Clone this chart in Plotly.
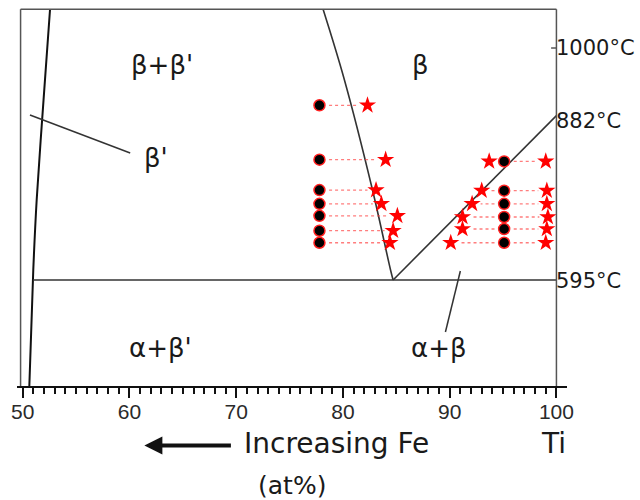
import numpy as np
import plotly.graph_objects as go

# ---- Ti-Fe phase boundaries (x = at% Ti, y = temperature in °C) ----
beta_prime_x = [52.56, 51.95, 51.31, 50.99, 50.62]
beta_prime_T = [1067.6, 909.0, 735.0, 612.5, 409.9]

beta_solvus_x = [78.14, 80.14, 82.77, 84.46, 84.70]
beta_solvus_T = [1067.6, 944.2, 752.1, 612.5, 595.0]

transus_x = [84.70, 100.0]
transus_T = [595.0, 882.0]

eutectoid_T = 595.0

# ---- heat-treatment samples (black) and measured compositions (red stars) ----
left_T = [900, 805, 752, 728, 707, 681, 660]
left_circle_x = [77.8, 77.8, 77.8, 77.8, 77.8, 77.8, 77.8]
left_star_x = [82.3, 84.0, 83.1, 83.6, 85.1, 84.7, 84.4]

right_T = [802, 751, 728, 705, 684, 660]
right_circle_x = [95.1, 95.1, 95.1, 95.1, 95.1, 95.1]
right_star_lo_x = [93.7, 93.0, 92.1, 91.2, 91.2, 90.1]
right_star_hi_x = [99.0, 99.1, 99.1, 99.2, 99.1, 99.0]

# ---- axis settings ----
x_ticks = [50, 60, 70, 80, 90, 100]
temp_labels = ["1000°C", "882°C", "595°C"]
temp_label_T = [1000, 872, 593]

X_RANGE = [49.465, 100.99]
Y_RANGE = [409.9, 1071.6]
T_TOP = 1067.6

LINE = "#333333"
FRAME = "#555555"
LABEL_FONT = "DejaVu Sans"
TEXT = "#1a1a1a"

fig = go.Figure()

# phase boundaries
fig.add_trace(go.Scatter(x=beta_prime_x, y=beta_prime_T, mode="lines",
                         line=dict(color="#111111", width=2, shape="spline"),
                         hoverinfo="skip", showlegend=False))
fig.add_trace(go.Scatter(x=beta_solvus_x, y=beta_solvus_T, mode="lines",
                         line=dict(color=LINE, width=1.6, shape="spline"),
                         hoverinfo="skip", showlegend=False))
fig.add_trace(go.Scatter(x=transus_x, y=transus_T, mode="lines",
                         line=dict(color=LINE, width=1.6),
                         hoverinfo="skip", showlegend=False))
eut_start = float(np.interp(eutectoid_T, beta_prime_T[::-1], beta_prime_x[::-1]))
fig.add_trace(go.Scatter(x=[eut_start, 100.0], y=[eutectoid_T, eutectoid_T], mode="lines",
                         line=dict(color=LINE, width=1.6),
                         hoverinfo="skip", showlegend=False))


def tie_line(cx, sx, T, gap_c=0.9, gap_s=0.8):
    """Dotted connector between a sample and its measured composition."""
    if sx > cx:
        a, b = cx + gap_c, sx - gap_s
        if b - a < 0.3:
            return
    else:
        a, b = cx - gap_c, sx + gap_s
        if a - b < 0.3:
            return
    fig.add_trace(go.Scatter(x=[a, b], y=[T, T], mode="lines",
                             line=dict(color="rgba(255,70,70,0.7)", width=1.3, dash="dot"),
                             hoverinfo="skip", showlegend=False))


for cx, sx, T in zip(left_circle_x, left_star_x, left_T):
    tie_line(cx, sx, T)
for cx, sx, T in zip(right_circle_x, right_star_lo_x, right_T):
    tie_line(cx, sx, T)
for cx, sx, T in zip(right_circle_x, right_star_hi_x, right_T):
    tie_line(cx, sx, T)

star_style = dict(symbol="star", size=13, color="#ff0000", line=dict(width=0))
circle_style = dict(symbol="circle", size=11, color="#000000",
                    line=dict(color="#ff2020", width=1.5))

fig.add_trace(go.Scatter(x=left_star_x + right_star_lo_x + right_star_hi_x,
                         y=left_T + right_T + right_T, mode="markers",
                         marker=star_style, showlegend=False))
fig.add_trace(go.Scatter(x=left_circle_x + right_circle_x, y=left_T + right_T,
                         mode="markers", marker=circle_style, showlegend=False))

# frame of the diagram
shapes = [
    dict(type="line", x0=49.8, x1=100, y0=T_TOP, y1=T_TOP, line=dict(color=FRAME, width=1.5)),
    dict(type="line", x0=49.8, x1=49.8, y0=Y_RANGE[0], y1=T_TOP, line=dict(color=FRAME, width=1.5)),
    dict(type="line", x0=100, x1=100, y0=Y_RANGE[0], y1=T_TOP, line=dict(color=FRAME, width=1.5)),
    dict(type="line", x0=99.5, x1=100, y0=1000, y1=1000, line=dict(color=FRAME, width=1.5)),
    # leader lines for the narrow phase fields
    dict(type="line", x0=50.68, y0=883, x1=60.07, y1=816.7, line=dict(color=LINE, width=1.5)),
    dict(type="line", x0=91.0, y0=610.7, x1=89.6, y1=504.2, line=dict(color=LINE, width=1.5)),
]

phase_font = dict(family=LABEL_FONT, size=26, color=TEXT)
annotations = [
    dict(x=63.07, y=970, text="β+β'", showarrow=False, font=phase_font),
    dict(x=87.27, y=970, text="β", showarrow=False, font=phase_font),
    dict(x=62.5, y=808, text="β'", showarrow=False, font=phase_font),
    dict(x=62.88, y=476, text="α+β'", showarrow=False, font=phase_font),
    dict(x=88.96, y=476, text="α+β", showarrow=False, font=phase_font),
]
for lab, T in zip(temp_labels, temp_label_T):
    annotations.append(dict(x=99.8, y=T, text=lab, showarrow=False,
                            xanchor="left", yanchor="middle",
                            font=dict(family=LABEL_FONT, size=21, color=TEXT)))

bottom_font = dict(family=LABEL_FONT, size=28, color=TEXT)
annotations += [
    dict(x=70.5, y=-0.153, xref="x", yref="paper", text="Increasing Fe", showarrow=False,
         xanchor="left", yanchor="middle", font=bottom_font),
    dict(x=99.7, y=-0.153, xref="x", yref="paper", text="Ti", showarrow=False,
         xanchor="center", yanchor="middle", font=bottom_font),
    dict(x=75.26, y=-0.262, xref="x", yref="paper", text="(at%)", showarrow=False,
         xanchor="center", yanchor="middle",
         font=dict(family=LABEL_FONT, size=25, color=TEXT)),
    dict(x=61.4, y=-0.157, xref="x", yref="paper", text="", showarrow=True,
         ax=88, ay=0, axref="pixel", ayref="pixel", arrowhead=2, arrowsize=0.9,
         arrowwidth=4, arrowcolor="#111111"),
]

fig.update_layout(
    width=640, height=500,
    margin=dict(l=17, r=73, t=7, b=114),
    paper_bgcolor="white", plot_bgcolor="white",
    shapes=shapes, annotations=annotations,
    xaxis=dict(range=X_RANGE, tickmode="array", tickvals=x_ticks,
               ticktext=[str(v) for v in x_ticks],
               ticks="outside", ticklen=10, tickwidth=2, tickcolor="#111111",
               showline=True, linecolor="#111111", linewidth=2, showgrid=False,
               zeroline=False, ticklabelstandoff=-4,
               tickfont=dict(family="Liberation Sans", size=21, color="#2a2a2a"),
               minor=dict(ticks="outside", ticklen=6, tickwidth=1.5, tickcolor="#111111",
                          tickmode="linear", tick0=50, dtick=1)),
    yaxis=dict(range=Y_RANGE, visible=False),
    showlegend=False,
)

fig.write_html("out.html")
